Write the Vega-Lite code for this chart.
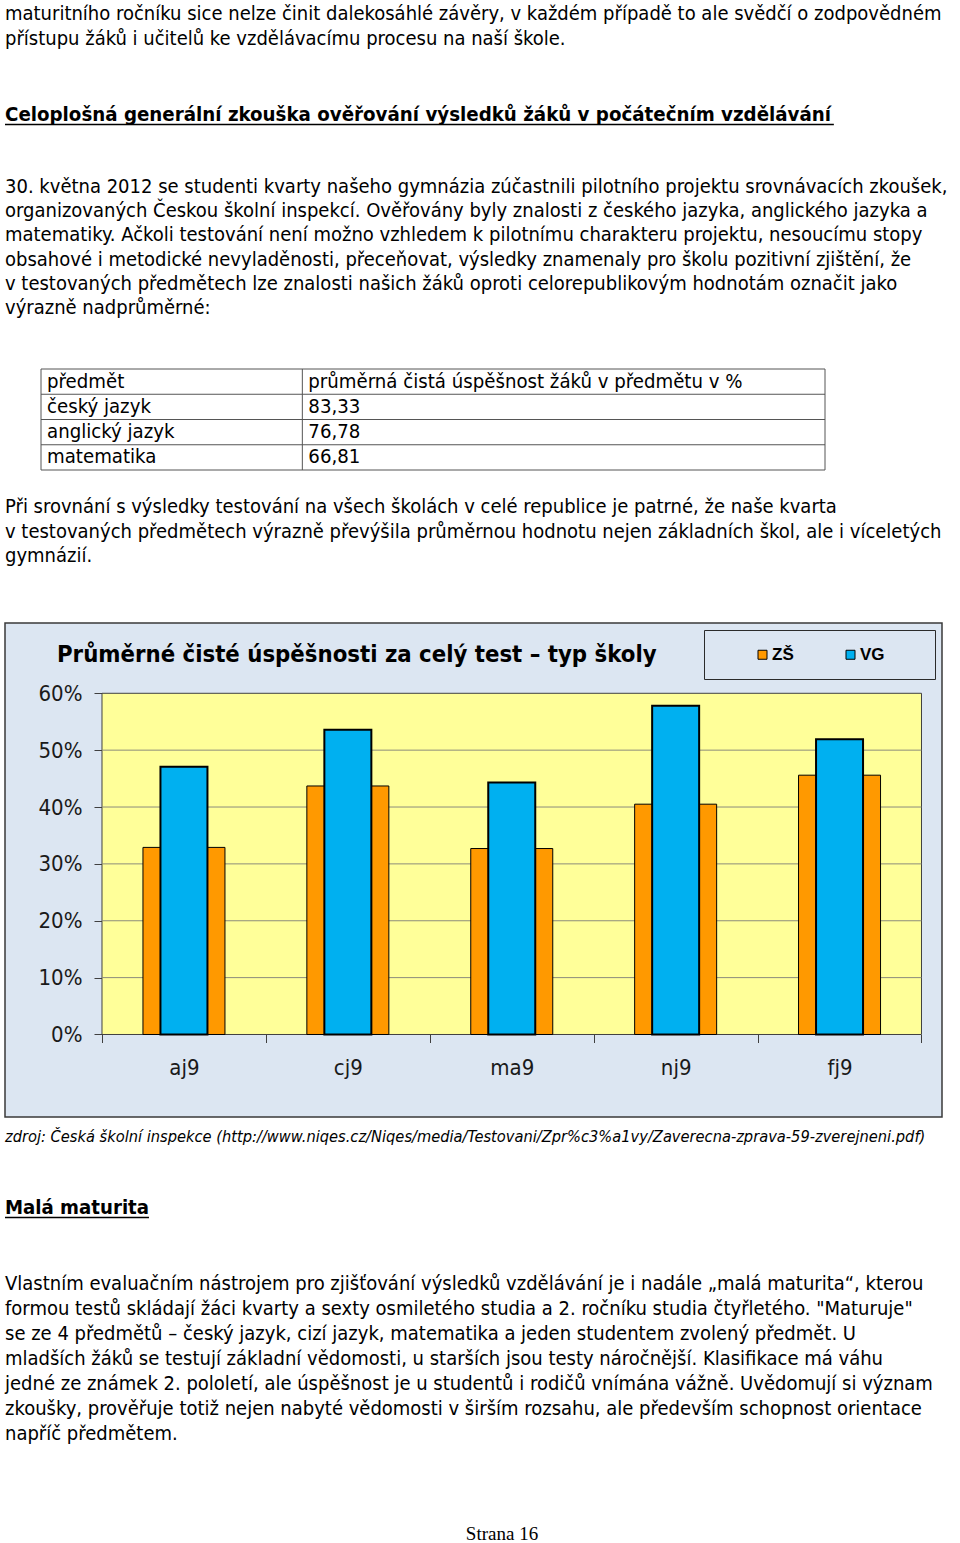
{
  "$schema": "https://vega.github.io/schema/vega-lite/v6.json",
  "background": "#ffffff",
  "padding": {"left": 4, "top": 0, "right": 0, "bottom": 0},
  "spacing": 0,
  "bounds": "flush",
  "resolve": {"scale": {"color": "independent"}, "legend": {"color": "independent"}},
  "config": {
    "view": {"stroke": null},
    "font": "DejaVu Sans Condensed, Liberation Sans",
    "text": {"font": "DejaVu Sans Condensed, Liberation Sans", "color": "#000000"}
  },
  "vconcat": [
    {
      "width": 956, "height": 53,
      "data": {"values": [
        {"line": 1, "text": "maturitního ročníku sice nelze činit dalekosáhlé závěry, v každém případě to ale svědčí o zodpovědném"},
        {"line": 2, "text": "přístupu žáků i učitelů ke vzdělávacímu procesu na naší škole."}
      ]},
      "mark": {"type": "text", "align": "left", "baseline": "middle", "fontSize": 20},
      "encoding": {
        "x": {"datum": 0, "type": "quantitative", "scale": {"domain": [0, 1]}, "axis": null},
        "y": {"field": "line", "type": "ordinal", "axis": null, "scale": {"type": "point", "padding": 0.56, "align": 0.5}},
        "text": {"field": "text"}
      }
    },
    {
      "width": 956, "height": 124,
      "data": {"values": [
        {"line": 1, "text": "Celoplošná generální zkouška ověřování výsledků žáků v počátečním vzdělávání"}
      ]},
      "encoding": {
        "x": {"datum": 0, "type": "quantitative", "scale": {"domain": [0, 1]}, "axis": null},
        "y": {"field": "line", "type": "ordinal", "axis": null, "scale": {"type": "point", "padding": 0.5, "align": 0.5}}
      },
      "layer": [
        {
          "mark": {"type": "text", "align": "left", "baseline": "middle", "fontSize": 20.3, "fontWeight": "bold"},
          "encoding": {"text": {"field": "text"}}
        },
        {
          "mark": {"type": "rule", "color": "#000000", "strokeWidth": 1.5, "yOffset": 9.5},
          "encoding": {"x2": {"datum": 0.867}}
        }
      ]
    },
    {
      "width": 956, "height": 141,
      "data": {"values": [
        {"line": 1, "text": "30. května 2012 se studenti kvarty našeho gymnázia zúčastnili pilotního projektu srovnávacích zkoušek,"},
        {"line": 2, "text": "organizovaných Českou školní inspekcí. Ověřovány byly znalosti z českého jazyka, anglického jazyka a"},
        {"line": 3, "text": "matematiky. Ačkoli testování není možno vzhledem k pilotnímu charakteru projektu, nesoucímu stopy"},
        {"line": 4, "text": "obsahové i metodické nevyladěnosti, přeceňovat, výsledky znamenaly pro školu pozitivní zjištění, že"},
        {"line": 5, "text": "v testovaných předmětech lze znalosti našich žáků oproti celorepublikovým hodnotám označit jako"},
        {"line": 6, "text": "výrazně nadprůměrné:"}
      ]},
      "mark": {"type": "text", "align": "left", "baseline": "middle", "fontSize": 20},
      "encoding": {
        "x": {"datum": 0, "type": "quantitative", "scale": {"domain": [0, 1]}, "axis": null},
        "y": {"field": "line", "type": "ordinal", "axis": null, "scale": {"type": "point", "padding": 0.413, "align": 0.5}},
        "text": {"field": "text"}
      }
    },
    {
      "width": 956, "height": 172,
      "layer": [
        {
          "data": {"values": [{"b": 0}, {"b": 1}, {"b": 2}, {"b": 3}, {"b": 4}]},
          "mark": {"type": "rule", "color": "#555555", "strokeWidth": 1},
          "encoding": {
            "y": {"field": "b", "type": "quantitative", "scale": {"domain": [-2.02, 4.792], "reverse": true, "nice": false, "zero": false}, "axis": null},
            "x": {"datum": 0, "type": "quantitative", "scale": {"domain": [-0.1378, 3.5204], "nice": false, "zero": false}, "axis": null},
            "x2": {"datum": 3}
          }
        },
        {
          "data": {"values": [{"c": 0}, {"c": 1}, {"c": 3}]},
          "mark": {"type": "rule", "color": "#555555", "strokeWidth": 1},
          "encoding": {
            "x": {"field": "c", "type": "quantitative", "scale": {"domain": [-0.1378, 3.5204], "nice": false, "zero": false}, "axis": null},
            "y": {"datum": 0, "type": "quantitative", "scale": {"domain": [-2.02, 4.792], "reverse": true, "nice": false, "zero": false}, "axis": null},
            "y2": {"datum": 4}
          }
        },
        {
          "data": {"values": [
            {"row": 0, "col": 0, "text": "předmět"},
            {"row": 0, "col": 1, "text": "průměrná čistá úspěšnost žáků v předmětu v %"},
            {"row": 1, "col": 0, "text": "český jazyk"},
            {"row": 1, "col": 1, "text": "83,33"},
            {"row": 2, "col": 0, "text": "anglický jazyk"},
            {"row": 2, "col": 1, "text": "76,78"},
            {"row": 3, "col": 0, "text": "matematika"},
            {"row": 3, "col": 1, "text": "66,81"}
          ]},
          "mark": {"type": "text", "align": "left", "baseline": "middle", "dx": 6, "dy": 12.6, "fontSize": 20.2},
          "encoding": {
            "x": {"field": "col", "type": "quantitative", "scale": {"domain": [-0.1378, 3.5204], "nice": false, "zero": false}, "axis": null},
            "y": {"field": "row", "type": "quantitative", "scale": {"domain": [-2.02, 4.792], "reverse": true, "nice": false, "zero": false}, "axis": null},
            "text": {"field": "text"}
          }
        }
      ]
    },
    {
      "width": 956, "height": 133,
      "data": {"values": [
        {"line": 1, "text": "Při srovnání s výsledky testování na všech školách v celé republice je patrné, že naše kvarta"},
        {"line": 2, "text": "v testovaných předmětech výrazně převýšila průměrnou hodnotu nejen základních škol, ale i víceletých"},
        {"line": 3, "text": "gymnázií."}
      ]},
      "mark": {"type": "text", "align": "left", "baseline": "middle", "fontSize": 20},
      "encoding": {
        "x": {"datum": 0, "type": "quantitative", "scale": {"domain": [0, 1]}, "axis": null},
        "y": {"field": "line", "type": "ordinal", "axis": null, "scale": {"type": "point", "domain": [1, 2, 3, 4, 5], "padding": 0.714, "align": 0.486}},
        "text": {"field": "text"}
      }
    },
    {
      "width": 937, "height": 494,
      "view": {"fill": "#dce6f2", "stroke": "#3a3a3a", "strokeWidth": 1.5},
      "title": {
        "text": "Průměrné čisté úspěšnosti za celý test – typ školy",
        "anchor": "start", "frame": "group", "orient": "top",
        "dx": 52, "offset": -63, "baseline": "alphabetic",
        "font": "DejaVu Sans Condensed, Liberation Sans", "fontSize": 23.7, "fontWeight": "bold", "color": "#000000"
      },
      "layer": [
        {
          "data": {"values": [{"area": "plot"}]},
          "mark": {"type": "rect", "fill": "#ffff99", "stroke": "#404040", "strokeWidth": 1},
          "encoding": {
            "x": {"datum": 0, "type": "quantitative", "scale": {"domain": [-0.11836, 1.02502], "nice": false, "zero": false}, "axis": null},
            "x2": {"datum": 1},
            "y": {"datum": 0, "type": "quantitative", "scale": {"domain": [-0.1451, 0.7236], "nice": false, "zero": false}},
            "y2": {"datum": 0.6}
          }
        },
        {
          "data": {"values": [{"g": 0.1}, {"g": 0.2}, {"g": 0.3}, {"g": 0.4}, {"g": 0.5}]},
          "mark": {"type": "rule", "color": "#8c8c7c", "strokeWidth": 1},
          "encoding": {
            "y": {"field": "g", "type": "quantitative", "title": null, "scale": {"domain": [-0.1451, 0.7236], "nice": false, "zero": false}},
            "x": {"datum": 0, "type": "quantitative", "scale": {"domain": [-0.11836, 1.02502], "nice": false, "zero": false}, "axis": null},
            "x2": {"datum": 1}
          }
        },
        {
          "data": {"values": [
            {"cat": "aj9", "type": "ZŠ", "value": 0.329},
            {"cat": "aj9", "type": "VG", "value": 0.471},
            {"cat": "cj9", "type": "ZŠ", "value": 0.437},
            {"cat": "cj9", "type": "VG", "value": 0.536},
            {"cat": "ma9", "type": "ZŠ", "value": 0.327},
            {"cat": "ma9", "type": "VG", "value": 0.443},
            {"cat": "nj9", "type": "ZŠ", "value": 0.405},
            {"cat": "nj9", "type": "VG", "value": 0.578},
            {"cat": "fj9", "type": "ZŠ", "value": 0.456},
            {"cat": "fj9", "type": "VG", "value": 0.519}
          ]},
          "layer": [
            {
              "transform": [{"filter": "datum.type === 'ZŠ'"}],
              "mark": {"type": "bar", "size": 82, "stroke": "#000000", "strokeWidth": 1},
              "encoding": {
                "x": {"field": "cat", "type": "nominal", "sort": ["aj9", "cj9", "ma9", "nj9", "fj9"],
                      "scale": {"paddingInner": 0, "paddingOuter": 0.3585, "align": 0.8255},
                      "axis": {"title": null, "orient": "bottom", "offset": -82.5, "domain": false, "tickBand": "extent", "tickSize": 8, "tickColor": "#404040", "labelFont": "DejaVu Sans Condensed, Liberation Sans", "labelFontSize": 22, "labelColor": "#1a1a1a", "labelPadding": 15, "labelAngle": 0, "grid": false}},
                "y": {"field": "value", "type": "quantitative", "scale": {"domain": [-0.1451, 0.7236], "nice": false, "zero": false},
                      "axis": {"title": null, "values": [0, 0.1, 0.2, 0.3, 0.4, 0.5, 0.6], "format": ".0%", "offset": -97, "domain": false, "tickSize": 8, "tickColor": "#404040", "labelFont": "DejaVu Sans Condensed, Liberation Sans", "labelFontSize": 22, "labelColor": "#1a1a1a", "labelPadding": 12, "grid": false}},
                "y2": {"datum": 0},
                "color": {"field": "type", "type": "nominal", "scale": {"domain": ["ZŠ", "VG"], "range": ["#ff9900", "#00b0f0"]},
                          "legend": {"title": "\u2003", "titleOrient": "right", "titlePadding": 34, "titleFontSize": 17, "orient": "top-right", "offset": 7, "direction": "horizontal", "fillColor": "#dce6f2", "strokeColor": "#2b2b2b", "padding": 16, "symbolType": "square", "symbolSize": 81, "symbolStrokeColor": "#000000", "symbolStrokeWidth": 1, "symbolOffset": 34, "labelOffset": 1, "columnPadding": 14, "labelFont": "Liberation Sans", "labelFontSize": 17, "labelFontWeight": "bold", "labelColor": "#000000"}}
              }
            },
            {
              "transform": [{"filter": "datum.type === 'VG'"}],
              "mark": {"type": "bar", "size": 47, "stroke": "#000000", "strokeWidth": 2},
              "encoding": {
                "x": {"field": "cat", "type": "nominal", "sort": ["aj9", "cj9", "ma9", "nj9", "fj9"]},
                "y": {"field": "value", "type": "quantitative"},
                "y2": {"datum": 0},
                "color": {"field": "type", "type": "nominal"}
              }
            }
          ]
        }
      ],
      "resolve": {"scale": {"x": "independent"}}
    },
    {
      "width": 956, "height": 40,
      "data": {"values": [
        {"line": 1, "text": "zdroj: Česká školní inspekce (http://www.niqes.cz/Niqes/media/Testovani/Zpr%c3%a1vy/Zaverecna-zprava-59-zverejneni.pdf)"}
      ]},
      "mark": {"type": "text", "align": "left", "baseline": "middle", "fontSize": 16.3, "fontStyle": "italic"},
      "encoding": {
        "x": {"datum": 0, "type": "quantitative", "scale": {"domain": [0, 1]}, "axis": null},
        "y": {"field": "line", "type": "ordinal", "axis": null, "scale": {"type": "point", "padding": 0.5, "align": 0.5}},
        "text": {"field": "text"}
      }
    },
    {
      "width": 956, "height": 102,
      "data": {"values": [
        {"line": 1, "text": "Malá maturita"}
      ]},
      "encoding": {
        "x": {"datum": 0, "type": "quantitative", "scale": {"domain": [0, 1]}, "axis": null},
        "y": {"field": "line", "type": "ordinal", "axis": null, "scale": {"type": "point", "padding": 0.5, "align": 0.5}}
      },
      "layer": [
        {
          "mark": {"type": "text", "align": "left", "baseline": "middle", "fontSize": 20.2, "fontWeight": "bold"},
          "encoding": {"text": {"field": "text"}}
        },
        {
          "mark": {"type": "rule", "color": "#000000", "strokeWidth": 1.5, "yOffset": 9.5},
          "encoding": {"x2": {"datum": 0.1506}}
        }
      ]
    },
    {
      "width": 956, "height": 200,
      "data": {"values": [
        {"line": 1, "text": "Vlastním evaluačním nástrojem pro zjišťování výsledků vzdělávání je i nadále „malá maturita“, kterou"},
        {"line": 2, "text": "formou testů skládají žáci kvarty a sexty osmiletého studia a 2. ročníku studia čtyřletého. \"Maturuje\""},
        {"line": 3, "text": "se ze 4 předmětů – český jazyk, cizí jazyk, matematika a jeden studentem zvolený předmět. U"},
        {"line": 4, "text": "mladších žáků se testují základní vědomosti, u starších jsou testy náročnější. Klasifikace má váhu"},
        {"line": 5, "text": "jedné ze známek 2. pololetí, ale úspěšnost je u studentů i rodičů vnímána vážně. Uvědomují si význam"},
        {"line": 6, "text": "zkoušky, prověřuje totiž nejen nabyté vědomosti v širším rozsahu, ale především schopnost orientace"},
        {"line": 7, "text": "napříč předmětem."}
      ]},
      "mark": {"type": "text", "align": "left", "baseline": "middle", "fontSize": 20},
      "encoding": {
        "x": {"datum": 0, "type": "quantitative", "scale": {"domain": [0, 1]}, "axis": null},
        "y": {"field": "line", "type": "ordinal", "axis": null, "scale": {"type": "point", "padding": 1, "align": 0.5}},
        "text": {"field": "text"}
      }
    },
    {
      "width": 956, "height": 84,
      "data": {"values": [
        {"line": 1, "text": "Strana 16"}
      ]},
      "mark": {"type": "text", "align": "center", "baseline": "middle", "fontSize": 19, "font": "Liberation Serif", "dx": 19},
      "encoding": {
        "x": {"datum": 0.5, "type": "quantitative", "scale": {"domain": [0, 1]}, "axis": null},
        "y": {"field": "line", "type": "ordinal", "axis": null, "scale": {"type": "point", "padding": 0.5, "align": 0.89}},
        "text": {"field": "text"}
      }
    }
  ]
}
